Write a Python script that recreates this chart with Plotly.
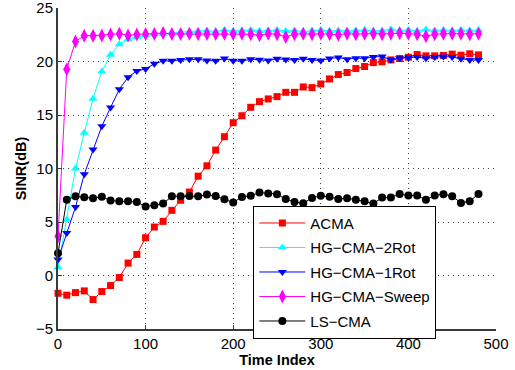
import plotly.graph_objects as go

time_index = [0, 10, 20, 30, 40, 50, 60, 70, 80, 90, 100, 110, 120, 130, 140, 150, 160,
              170, 180, 190, 200, 210, 220, 230, 240, 250, 260, 270, 280, 290, 300, 310,
              320, 330, 340, 350, 360, 370, 380, 390, 400, 410, 420, 430, 440, 450, 460,
              470, 480]

acma = [-1.66, -1.84, -1.6, -1.44, -2.25, -1.5, -0.94, -0.19, 1.16, 1.97, 3.53, 4.53,
        5.06, 6.09, 7.03, 7.8, 9.28, 10.25, 11.72, 12.97, 14.28, 14.93, 15.72, 16.25,
        16.5, 16.72, 17.12, 17.12, 17.62, 17.56, 17.9, 18.37, 18.78, 18.97, 19.34, 19.53,
        19.9, 19.97, 20.15, 20.28, 20.4, 20.65, 20.53, 20.53, 20.56, 20.69, 20.59, 20.72,
        20.62]

hg_2rot = [0.78, 5.22, 10.0, 13.34, 16.53, 19.06, 20.62, 21.62, 22.09, 22.28, 22.45, 22.55,
           22.6, 22.7, 22.75, 22.8, 22.85, 22.9, 22.8, 22.95, 22.85, 22.9, 22.95, 22.85,
           22.9, 22.95, 22.85, 22.9, 22.8, 22.9, 22.95, 22.85, 22.9, 22.85, 22.9, 22.95,
           22.85, 22.9, 23.0, 22.9, 22.95, 22.85, 23.0, 22.9, 22.95, 22.9, 22.95, 22.9, 22.95]

hg_1rot = [1.5, 3.97, 6.4, 9.47, 11.78, 13.95, 15.7, 17.4, 18.53, 19.12, 19.3, 19.78,
           20.06, 20.06, 20.15, 20.2, 20.2, 20.1, 20.06, 20.28, 20.06, 20.06, 20.2, 20.16,
           20.09, 20.25, 20.19, 20.13, 20.25, 20.13, 20.09, 20.28, 20.37, 20.22, 20.31,
           20.31, 20.41, 20.47, 20.16, 20.31, 20.37, 20.41, 20.31, 20.41, 20.47, 20.41,
           20.25, 20.13, 20.13]

hg_sweep = [3.66, 19.28, 21.88, 22.41, 22.41, 22.44, 22.53, 22.59, 22.44, 22.53, 22.56,
            22.56, 22.66, 22.56, 22.56, 22.6, 22.56, 22.56, 22.56, 22.6, 22.56, 22.6, 22.55,
            22.45, 22.6, 22.55, 22.3, 22.55, 22.6, 22.55, 22.6, 22.55, 22.5, 22.6, 22.55,
            22.6, 22.6, 22.55, 22.6, 22.65, 22.6, 22.55, 22.35, 22.55, 22.6, 22.6, 22.6,
            22.55, 22.6]

ls_cma = [2.09, 7.09, 7.4, 7.31, 7.22, 7.37, 7.0, 6.94, 6.94, 6.87, 6.44, 6.56, 6.72, 7.4,
          7.4, 7.44, 7.4, 7.56, 7.42, 7.12, 6.82, 7.34, 7.45, 7.76, 7.66, 7.6, 7.14, 6.86,
          6.75, 7.25, 7.45, 7.35, 7.15, 7.22, 7.09, 6.94, 6.72, 7.28, 7.28, 7.62, 7.47, 7.47,
          7.09, 7.47, 7.6, 7.41, 6.78, 6.94, 7.62]

series = [
    ("ACMA", acma, "#ff0000", "square", 7),
    ("HG\u2212CMA\u22122Rot", hg_2rot, "#00ffff", "triangle-up", 8),
    ("HG\u2212CMA\u22121Rot", hg_1rot, "#0000ff", "triangle-down", 8),
    ("HG\u2212CMA\u2212Sweep", hg_sweep, "#ff00ff", "diamond-tall", 10),
    ("LS\u2212CMA", ls_cma, "#000000", "circle", 8),
]

fig = go.Figure()
for i, (name, vals, color, sym, size) in enumerate(series):
    fig.add_trace(go.Scatter(
        x=time_index, y=vals, name=name, mode="lines+markers",
        line=dict(color=color, width=1),
        marker=dict(symbol=sym, size=size, color=color),
        legendgroup=str(i), cliponaxis=False,
    ))

font_family = "Liberation Sans, Arial, Helvetica, sans-serif"
axis_common = dict(
    showline=True, linecolor="#3a3a3a", linewidth=2,
    showgrid=True, gridcolor="#444444", gridwidth=1, griddash="1px,4px",
    zeroline=False, ticks="inside", ticklen=4, tickcolor="#3a3a3a",
    tickfont=dict(size=15, color="black", family=font_family),
    mirror=False, automargin=False, ticklabeloverflow="allow",
)

fig.update_layout(
    width=515, height=370,
    margin=dict(l=58, r=19, t=8, b=41),
    paper_bgcolor="white", plot_bgcolor="white",
    font=dict(family=font_family, color="black"),
    showlegend=True,
    legend=dict(
        x=0.446, y=0.384, xanchor="left", yanchor="top",
        bgcolor="white", bordercolor="black", borderwidth=1,
        font=dict(size=15, color="black", family=font_family),
        traceorder="grouped", tracegroupgap=2, itemwidth=46,
    ),
)
fig.update_xaxes(range=[0, 500], dtick=100, tick0=0,
                 title=dict(text="<b>Time Index</b>", font=dict(size=14.5), standoff=4),
                 **axis_common)
fig.update_yaxes(range=[-5, 25], dtick=5, tick0=0,
                 title=dict(text="<b>SINR(dB)</b>", font=dict(size=14.5), standoff=6),
                 **axis_common)

fig.write_html("out.html", config={"displayModeBar": False},
               post_script="document.body.style.margin='0';")
